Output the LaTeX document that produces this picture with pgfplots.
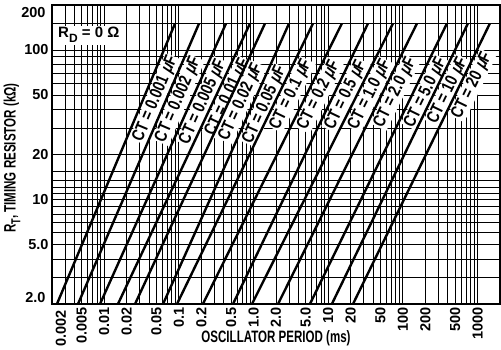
\documentclass[border=0pt]{standalone}
\usepackage{fontspec}
\setmainfont{Liberation Sans}
\newfontfamily\tickfam{Liberation Sans}
\newfontfamily\cond[FakeStretch=0.70]{Liberation Sans}
\newfontfamily\ctfam[FakeStretch=0.80]{Liberation Sans}
\newfontfamily\ctit[FakeStretch=0.80,FakeSlant=0.2]{Liberation Sans}
\usepackage{pgfplots}
\pgfplotsset{compat=1.18}
\newcommand{\tickfont}{\tickfam\bfseries\fontsize{14.5}{14.5}\selectfont}
\newcommand{\ctfont}{\ctfam\bfseries\fontsize{17.5}{17.5}\selectfont}
\newcommand{\labfont}{\cond\bfseries\fontsize{16.5}{16.5}\selectfont}
\newcommand{\mmu}{{\ctit\bfseries μ}}
\tikzset{ctlab/.style={sloped, anchor=north, yshift=-1.2pt, fill=white, inner sep=1.0pt, font=\ctfont}}
\begin{document}
\begin{tikzpicture}
\begin{axis}[
  set layers,
  xmode=log, ymode=log,
  scale only axis, width=448pt, height=299pt,
  xmin=0.002, xmax=2000, ymin=2, ymax=200,
  clip=false,
  axis line style={line width=1.8pt},
  grid=both,
  major grid style={black, line width=0.9pt},
  minor grid style={black, line width=0.9pt},
  major tick length=0pt, minor tick length=0pt,
  xtick={0.005,0.01,0.02,0.05,0.1,0.2,0.5,1,2,5,10,20,50,100,200,500,1000},
  xticklabels={0.005,0.01,0.02,0.05,0.1,0.2,0.5,1.0,2.0,5.0,10,20,50,100,200,500,1000},
  minor xtick={0.003,0.004,0.006,0.007,0.008,0.009,
               0.03,0.04,0.06,0.07,0.08,0.09,
               0.3,0.4,0.6,0.7,0.8,0.9,
               3,4,6,7,8,9,
               30,40,60,70,80,90,
               300,400,600,700,800,900},
  ytick={5,10,20,50,100},
  yticklabels={5.0,10,20,50,100},
  minor ytick={3,4,6,7,8,9,11,12,13.5,15.5,30,40,60,70,80,90,150},
  xticklabel style={rotate=90, anchor=east, font=\tickfont},
  yticklabel style={font=\tickfont},
]
\begin{pgfonlayer}{pre main}
\fill[white] (rel axis cs:0.004,0.866) rectangle (rel axis cs:0.163,0.929);
\node[font=\tickfam\bfseries\fontsize{15}{15}\selectfont] at (rel axis cs:0.082,0.90) {R\raisebox{-0.3em}{\fontsize{12}{12}\selectfont D} = 0 Ω};
\end{pgfonlayer}
\addplot[black, line width=2.4pt] coordinates {(0.00233,2) (0.0887,150)} node[ctlab, pos=0.747] {CT = 0.001 \mmu F};
\addplot[black, line width=2.4pt] coordinates {(0.00446,2) (0.186,150)} node[ctlab, pos=0.744] {CT = 0.002 \mmu F};
\addplot[black, line width=2.4pt] coordinates {(0.00879,2) (0.427,150)} node[ctlab, pos=0.737] {CT = 0.005 \mmu F};
\addplot[black, line width=2.4pt] coordinates {(0.0153,2) (0.895,150)} node[ctlab, pos=0.754] {CT = 0.01 \mmu F};
\addplot[black, line width=2.4pt] coordinates {(0.0259,2) (1.42,150)} node[ctlab, pos=0.737] {CT = 0.02 \mmu F};
\addplot[black, line width=2.4pt] coordinates {(0.0614,2) (2.98,150)} node[ctlab, pos=0.726] {CT = 0.05 \mmu F};
\addplot[black, line width=2.4pt] coordinates {(0.0944,2) (6.24,150)} node[ctlab, pos=0.765] {CT = 0.1 \mmu F};
\addplot[black, line width=2.4pt] coordinates {(0.210,2) (15.2,150)} node[ctlab, pos=0.762] {CT = 0.2 \mmu F};
\addplot[black, line width=2.4pt] coordinates {(0.531,2) (34.0,150)} node[ctlab, pos=0.762] {CT = 0.5 \mmu F};
\addplot[black, line width=2.4pt] coordinates {(0.953,2) (73.4,150)} node[ctlab, pos=0.765] {CT = 1.0 \mmu F};
\addplot[black, line width=2.4pt] coordinates {(2.13,2) (154,150)} node[ctlab, pos=0.772] {CT = 2.0 \mmu F};
\addplot[black, line width=2.4pt] coordinates {(5.70,2) (388,150)} node[ctlab, pos=0.772] {CT = 5.0 \mmu F};
\addplot[black, line width=2.4pt] coordinates {(11.2,2) (741,150)} node[ctlab, pos=0.779] {CT = 10 \mmu F};
\addplot[black, line width=2.4pt] coordinates {(21.5,2) (1459,150)} node[ctlab, pos=0.797] {CT = 20 \mmu F};
\node[anchor=east, font=\tickfont] at ([xshift=-3pt,yshift=-8pt]axis cs:0.002,200) {200};
\node[anchor=east, font=\tickfont] at ([xshift=-3pt,yshift=6pt]axis cs:0.002,2) {2.0};
\node[rotate=90, anchor=east, font=\tickfont] at ([xshift=9pt,yshift=-3pt]axis cs:0.002,2) {0.002};
\node[font=\labfont] at ([yshift=-34pt]rel axis cs:0.5,0) {OSCILLATOR PERIOD (ms)};
\node[rotate=90, font=\labfont] at ([xshift=-40pt]rel axis cs:0,0.488) {R\raisebox{-0.3em}{\cond\bfseries\fontsize{13}{13}\selectfont T}, TIMING RESISTOR (kΩ)};
\end{axis}
\pgfresetboundingbox
\path[use as bounding box] ([shift={(-52pt,-45pt)}]current axis.south west) rectangle ([shift={(1pt,5pt)}]current axis.north east);
\end{tikzpicture}
\end{document}
